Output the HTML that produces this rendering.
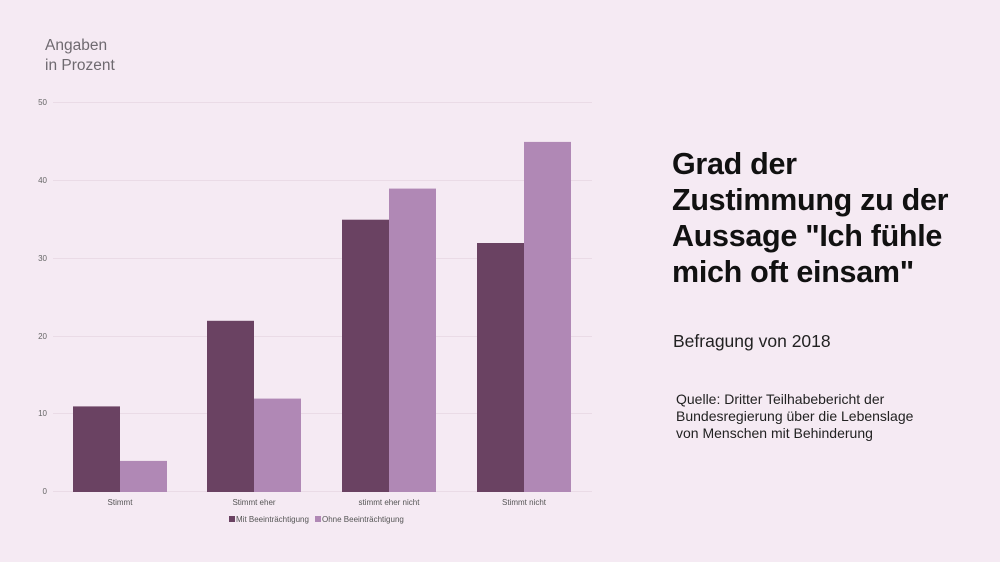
<!DOCTYPE html>
<html><head><meta charset="utf-8"><style>
html,body{margin:0;padding:0;background:#f5eaf3;}
body{width:1000px;height:562px;position:relative;overflow:hidden;font-family:"Liberation Sans",sans-serif;}
.t{position:absolute;left:672px;top:146px;font-size:30.5px;font-weight:bold;line-height:36px;color:#111;letter-spacing:-0.3px;}
.s{position:absolute;left:673px;top:331px;font-size:17.5px;color:#222;}
.q{position:absolute;left:676px;top:391px;font-size:14px;line-height:17px;color:#222;}
.a{position:absolute;left:45px;top:36px;font-size:15.5px;line-height:20px;color:#6f6a70;}
</style></head><body>
<div class="a">Angaben<br>in Prozent</div>
<svg width="1000" height="562" style="position:absolute;left:0;top:0" font-family="Liberation Sans, sans-serif">
<g stroke="#eadbe6" stroke-width="1">
<line x1="53" x2="592" y1="102.5" y2="102.5"/>
<line x1="53" x2="592" y1="180.5" y2="180.5"/>
<line x1="53" x2="592" y1="258.5" y2="258.5"/>
<line x1="53" x2="592" y1="336.5" y2="336.5"/>
<line x1="53" x2="592" y1="413.5" y2="413.5"/>
<line x1="53" x2="592" y1="491.5" y2="491.5"/>
</g>
<g font-size="8" fill="#666" text-anchor="end">
<text x="47" y="105">50</text><text x="47" y="183">40</text><text x="47" y="261">30</text>
<text x="47" y="339">20</text><text x="47" y="416">10</text><text x="47" y="494">0</text>
</g>
<g fill="#6a4262">
<rect x="73" y="406.4" width="47" height="85.6"/>
<rect x="207" y="320.8" width="47" height="171.2"/>
<rect x="342" y="219.7" width="47" height="272.3"/>
<rect x="477" y="243" width="47" height="249"/>
</g>
<g fill="#b088b5">
<rect x="120" y="460.9" width="47" height="31.1"/>
<rect x="254" y="398.6" width="47" height="93.4"/>
<rect x="389" y="188.6" width="47" height="303.4"/>
<rect x="524" y="141.9" width="47" height="350.1"/>
</g>
<g font-size="8" fill="#555" text-anchor="middle">
<text x="120" y="505">Stimmt</text><text x="254" y="505">Stimmt eher</text>
<text x="389" y="505">stimmt eher nicht</text><text x="524" y="505">Stimmt nicht</text>
</g>
<rect x="229" y="516" width="6" height="6" fill="#6a4262"/>
<text x="236" y="522" font-size="8" fill="#555">Mit Beeinträchtigung</text>
<rect x="315" y="516" width="6" height="6" fill="#b088b5"/>
<text x="322" y="522" font-size="8" fill="#555">Ohne Beeinträchtigung</text>
</svg>
<div class="t">Grad der<br>Zustimmung zu der<br>Aussage "Ich fühle<br>mich oft einsam"</div>
<div class="s">Befragung von 2018</div>
<div class="q">Quelle: Dritter Teilhabebericht der<br>Bundesregierung über die Lebenslage<br>von Menschen mit Behinderung</div>
</body></html>
